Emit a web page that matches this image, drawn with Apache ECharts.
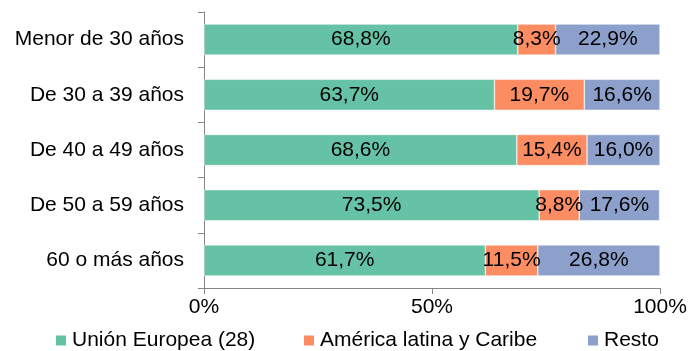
<!DOCTYPE html>
<html><head><meta charset="utf-8">
<script src="https://cdn.jsdelivr.net/npm/echarts@6/dist/echarts.min.js"></script>
<style>html,body{margin:0;padding:0;background:#fff}#c{width:694px;height:351px}</style>
</head><body><div id="c"></div>
<script>
const categories = ["Menor de 30 años","De 30 a 39 años","De 40 a 49 años","De 50 a 59 años","60 o más años"];
const seriesNames = ["Unión Europea (28)","América latina y Caribe","Resto"];
const ue = [68.8,63.7,68.6,73.5,61.7];
const alc = [8.3,19.7,15.4,8.8,11.5];
const resto = [22.9,16.6,16.0,17.6,26.8];
const colors = ["#66C2A5","#FC8D62","#8DA0CB"];
const font = "Liberation Sans, Arial, sans-serif";
const fs = 21;

const chart = echarts.init(document.getElementById('c'));
function mk(name, data, color){
  return {name, type:'bar', stack:'s', data, barWidth:31,
    itemStyle:{color, borderColor:'#ffffff', borderWidth:0.5},
    label:{show:true, position:'inside', color:'#000', fontFamily:font, fontSize:fs,
      formatter:p=>p.value.toFixed(1).replace('.',',')+'%'}};
}
const legendPos = [54, 302, 586];
chart.setOption({
  animation:false,
  grid:{left:204,right:34,top:12,bottom:63},
  xAxis:{type:'value',min:0,max:100,interval:50,
    axisLine:{show:true,lineStyle:{color:'#868686'}},
    axisTick:{show:true,length:6,lineStyle:{color:'#868686'}},
    splitLine:{show:false},
    axisLabel:{formatter:'{value}%',color:'#000',fontFamily:font,fontSize:fs,margin:9}},
  yAxis:{type:'category',data:categories,inverse:true,
    axisLine:{lineStyle:{color:'#868686'}},
    axisTick:{show:true,length:6,lineStyle:{color:'#868686'}},
    axisLabel:{color:'#000',fontFamily:font,fontSize:fs,margin:20}},
  legend: seriesNames.map((n,i)=>({data:[n], left:legendPos[i], top:330, padding:0, itemWidth:12, itemHeight:12, itemGap:0,
    icon:'rect', textStyle:{color:'#000',fontFamily:font,fontSize:fs,padding:[0,0,0,0]}})),
  series:[mk(seriesNames[0],ue,colors[0]),mk(seriesNames[1],alc,colors[1]),mk(seriesNames[2],resto,colors[2])]
});
</script></body></html>
